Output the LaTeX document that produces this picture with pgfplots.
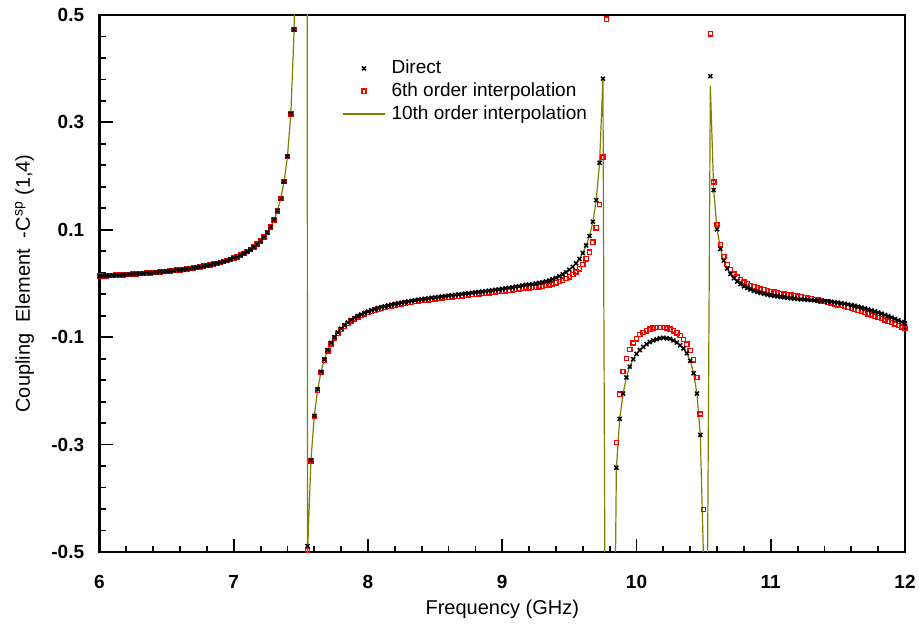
\documentclass[border=0pt]{standalone}
\usepackage{fontspec}
\setmainfont{Liberation Sans}
\usepackage{pgfplots}
\usepackage{pgfplotstable}
\pgfplotsset{compat=1.18}
\definecolor{olivec}{RGB}{128,128,0}

\pgfplotstableread{
x d s t
6.000 0.0137 0.0137 0.0137
6.025 0.0141 0.0141 0.0141
6.050 0.0144 0.0144 0.0144
6.075 0.0147 0.0147 0.0147
6.100 0.0151 0.0151 0.0151
6.125 0.0154 0.0154 0.0154
6.150 0.0158 0.0158 0.0158
6.175 0.0162 0.0162 0.0162
6.200 0.0166 0.0166 0.0166
6.225 0.0170 0.0170 0.0170
6.250 0.0174 0.0174 0.0174
6.275 0.0178 0.0178 0.0178
6.300 0.0183 0.0183 0.0183
6.325 0.0187 0.0187 0.0187
6.350 0.0192 0.0192 0.0192
6.375 0.0197 0.0197 0.0197
6.400 0.0203 0.0203 0.0203
6.425 0.0208 0.0208 0.0208
6.450 0.0214 0.0214 0.0214
6.475 0.0220 0.0220 0.0220
6.500 0.0226 0.0226 0.0226
6.525 0.0233 0.0233 0.0233
6.550 0.0239 0.0239 0.0239
6.575 0.0247 0.0247 0.0247
6.600 0.0254 0.0254 0.0254
6.625 0.0262 0.0262 0.0262
6.650 0.0271 0.0271 0.0271
6.675 0.0280 0.0280 0.0280
6.700 0.0289 0.0289 0.0289
6.725 0.0299 0.0299 0.0299
6.750 0.0310 0.0310 0.0310
6.775 0.0321 0.0321 0.0321
6.800 0.0333 0.0333 0.0333
6.825 0.0346 0.0346 0.0346
6.850 0.0360 0.0360 0.0360
6.875 0.0375 0.0375 0.0375
6.900 0.0391 0.0391 0.0391
6.925 0.0409 0.0409 0.0409
6.950 0.0428 0.0428 0.0428
6.975 0.0449 0.0449 0.0449
7.000 0.0472 0.0472 0.0472
7.025 0.0497 0.0497 0.0497
7.050 0.0525 0.0525 0.0525
7.075 0.0557 0.0557 0.0557
7.100 0.0592 0.0592 0.0592
7.125 0.0632 0.0632 0.0632
7.150 0.0677 0.0677 0.0677
7.175 0.0730 0.0730 0.0730
7.200 0.0791 0.0791 0.0791
7.225 0.0863 0.0863 0.0863
7.250 0.0949 0.0949 0.0949
7.275 0.1054 0.1054 0.1054
7.300 0.1186 0.1186 0.1186
7.325 0.1355 0.1355 0.1355
7.350 0.1580 0.1580 0.1580
7.375 0.1896 0.1896 0.1896
7.400 0.2368 0.2368 0.2368
7.425 0.3155 0.3155 0.3155
7.450 0.4729 0.4729 0.4729
7.475 0.945 0.945 0.95
7.500 3 3 3
7.525 -1 -1 8
7.550 -0.489 -0.497 -0.500
7.575 -0.3290 -0.3305 -0.3290
7.600 -0.2464 -0.2480 -0.2464
7.625 -0.1971 -0.1987 -0.1971
7.650 -0.1645 -0.1661 -0.1645
7.675 -0.1413 -0.1429 -0.1413
7.700 -0.1239 -0.1255 -0.1239
7.725 -0.1105 -0.1122 -0.1105
7.750 -0.0999 -0.1016 -0.0999
7.775 -0.0912 -0.0929 -0.0912
7.800 -0.0840 -0.0857 -0.0840
7.825 -0.0779 -0.0796 -0.0779
7.850 -0.0726 -0.0744 -0.0726
7.875 -0.0681 -0.0699 -0.0681
7.900 -0.0642 -0.0660 -0.0642
7.925 -0.0607 -0.0625 -0.0607
7.950 -0.0576 -0.0595 -0.0576
7.975 -0.0548 -0.0567 -0.0548
8.000 -0.0522 -0.0541 -0.0522
8.025 -0.0499 -0.0519 -0.0499
8.050 -0.0478 -0.0498 -0.0478
8.075 -0.0459 -0.0479 -0.0459
8.100 -0.0441 -0.0461 -0.0441
8.125 -0.0425 -0.0446 -0.0425
8.150 -0.0409 -0.0430 -0.0409
8.175 -0.0395 -0.0416 -0.0395
8.200 -0.0381 -0.0403 -0.0381
8.225 -0.0368 -0.0390 -0.0368
8.250 -0.0356 -0.0379 -0.0356
8.275 -0.0345 -0.0368 -0.0345
8.300 -0.0334 -0.0357 -0.0334
8.325 -0.0323 -0.0347 -0.0323
8.350 -0.0313 -0.0337 -0.0313
8.375 -0.0303 -0.0328 -0.0303
8.400 -0.0294 -0.0319 -0.0294
8.425 -0.0285 -0.0310 -0.0285
8.450 -0.0276 -0.0302 -0.0276
8.475 -0.0267 -0.0293 -0.0267
8.500 -0.0259 -0.0286 -0.0259
8.525 -0.0251 -0.0278 -0.0251
8.550 -0.0243 -0.0271 -0.0243
8.575 -0.0235 -0.0264 -0.0235
8.600 -0.0227 -0.0256 -0.0227
8.625 -0.0219 -0.0249 -0.0219
8.650 -0.0212 -0.0242 -0.0212
8.675 -0.0204 -0.0235 -0.0204
8.700 -0.0197 -0.0229 -0.0197
8.725 -0.0189 -0.0222 -0.0189
8.750 -0.0182 -0.0215 -0.0182
8.775 -0.0174 -0.0208 -0.0174
8.800 -0.0166 -0.0201 -0.0166
8.825 -0.0159 -0.0195 -0.0159
8.850 -0.0151 -0.0188 -0.0151
8.875 -0.0143 -0.0181 -0.0143
8.900 -0.0135 -0.0174 -0.0135
8.925 -0.0126 -0.0167 -0.0126
8.950 -0.0118 -0.0160 -0.0118
8.975 -0.0109 -0.0152 -0.0109
9.000 -0.0100 -0.0145 -0.0100
9.025 -0.0091 -0.0137 -0.0091
9.050 -0.0081 -0.0129 -0.0081
9.075 -0.0071 -0.0120 -0.0071
9.100 -0.0060 -0.0111 -0.0060
9.125 -0.0049 -0.0102 -0.0049
9.150 -0.0037 -0.0092 -0.0037
9.175 -0.0025 -0.0083 -0.0025
9.200 -0.0021 -0.0082 -0.0021
9.225 -0.0012 -0.0076 -0.0012
9.250 -0.0001 -0.0068 -0.0001
9.275 0.0010 -0.0060 0.0010
9.300 0.0023 -0.0051 0.0023
9.325 0.0038 -0.0040 0.0038
9.350 0.0055 -0.0028 0.0055
9.375 0.0079 -0.0009 0.0079
9.400 0.0106 0.0012 0.0106
9.425 0.0136 0.0034 0.0136
9.450 0.0170 0.0060 0.0170
9.475 0.0210 0.0091 0.0210
9.500 0.0256 0.0125 0.0256
9.525 0.0310 0.0165 0.0310
9.550 0.0376 0.0214 0.0376
9.575 0.0456 0.0273 0.0456
9.600 0.0567 0.0356 0.0567
9.625 0.0708 0.0460 0.0708
9.650 0.0885 0.0584 0.0885
9.675 0.1149 0.0767 0.1149
9.700 0.1553 0.1036 0.1553
9.725 0.2249 0.1468 0.2249
9.750 0.3814 0.2350 0.3814
9.775 -1.2 0.492 -1.2
9.800 -1.6 3 -1.6
9.825 -1.0 -1.5 -1.0
9.850 -0.343 -0.296 -0.343
9.875 -0.252 -0.206 -0.252
9.900 -0.205 -0.164 -0.205
9.925 -0.175 -0.140 -0.175
9.950 -0.155 -0.123 -0.155
9.975 -0.141 -0.111 -0.141
10.000 -0.131 -0.103 -0.131
10.025 -0.124 -0.095 -0.124
10.050 -0.118 -0.091 -0.118
10.075 -0.113 -0.088 -0.113
10.100 -0.109 -0.085 -0.109
10.125 -0.106 -0.083 -0.106
10.150 -0.104 -0.082 -0.104
10.175 -0.102 -0.082 -0.102
10.200 -0.101 -0.082 -0.101
10.225 -0.102 -0.083 -0.102
10.250 -0.103 -0.085 -0.103
10.275 -0.106 -0.088 -0.106
10.300 -0.110 -0.092 -0.110
10.325 -0.115 -0.097 -0.115
10.350 -0.121 -0.104 -0.121
10.375 -0.130 -0.113 -0.130
10.400 -0.144 -0.125 -0.144
10.425 -0.167 -0.142 -0.167
10.450 -0.205 -0.175 -0.205
10.475 -0.282 -0.243 -0.282
10.500 -0.6 -0.421 -0.52
10.525 -0.7 -0.9 -0.7
10.550 0.386 0.465 0.368
10.575 0.174 0.189 0.174
10.600 0.101 0.110 0.101
10.625 0.0645 0.0723 0.0645
10.650 0.0426 0.0503 0.0426
10.675 0.0280 0.0357 0.0280
10.700 0.0176 0.0254 0.0176
10.725 0.0098 0.0177 0.0098
10.750 0.0037 0.0116 0.0037
10.775 -0.0012 0.0068 -0.0012
10.800 -0.0052 0.0028 -0.0052
10.825 -0.0085 -0.0006 -0.0085
10.850 -0.0113 -0.0035 -0.0113
10.875 -0.0137 -0.0060 -0.0137
10.900 -0.0158 -0.0082 -0.0158
10.925 -0.0176 -0.0101 -0.0176
10.950 -0.0192 -0.0119 -0.0192
10.975 -0.0207 -0.0134 -0.0207
11.000 -0.0220 -0.0149 -0.0220
11.025 -0.0231 -0.0162 -0.0231
11.050 -0.0241 -0.0174 -0.0241
11.075 -0.0251 -0.0185 -0.0251
11.100 -0.0260 -0.0196 -0.0260
11.125 -0.0268 -0.0206 -0.0268
11.150 -0.0275 -0.0216 -0.0275
11.175 -0.0282 -0.0227 -0.0282
11.200 -0.0288 -0.0237 -0.0288
11.225 -0.0294 -0.0248 -0.0294
11.250 -0.0299 -0.0260 -0.0299
11.275 -0.0304 -0.0271 -0.0304
11.300 -0.0309 -0.0283 -0.0309
11.325 -0.0313 -0.0295 -0.0313
11.350 -0.0317 -0.0308 -0.0317
11.375 -0.0322 -0.0322 -0.0322
11.400 -0.0327 -0.0335 -0.0327
11.425 -0.0333 -0.0350 -0.0333
11.450 -0.0340 -0.0365 -0.0340
11.475 -0.0348 -0.0380 -0.0348
11.500 -0.0357 -0.0396 -0.0357
11.525 -0.0367 -0.0412 -0.0367
11.550 -0.0378 -0.0429 -0.0378
11.575 -0.0390 -0.0447 -0.0390
11.600 -0.0403 -0.0465 -0.0403
11.625 -0.0417 -0.0483 -0.0417
11.650 -0.0432 -0.0503 -0.0432
11.675 -0.0447 -0.0523 -0.0447
11.700 -0.0464 -0.0543 -0.0464
11.725 -0.0482 -0.0564 -0.0482
11.750 -0.0501 -0.0586 -0.0501
11.775 -0.0521 -0.0608 -0.0521
11.800 -0.0542 -0.0631 -0.0542
11.825 -0.0563 -0.0655 -0.0563
11.850 -0.0586 -0.0679 -0.0586
11.875 -0.0610 -0.0704 -0.0610
11.900 -0.0635 -0.0730 -0.0635
11.925 -0.0661 -0.0756 -0.0661
11.950 -0.0689 -0.0783 -0.0689
11.975 -0.0717 -0.0810 -0.0717
12.000 -0.0746 -0.0838 -0.0746
}\data

\begin{document}
\begin{tikzpicture}
\useasboundingbox (0,0) rectangle (459.5pt,312pt);
\begin{axis}[
  at={(49.75pt,36pt)}, anchor=south west,
  scale only axis, width=402.75pt, height=268.5pt,
  xmin=6, xmax=12, ymin=-0.5, ymax=0.5,
  xtick={6,7,8,9,10,11,12}, xticklabels={6,7,8,9,10,11,12},
  ytick={-0.5,-0.3,-0.1,0.1,0.3,0.5}, yticklabels={-0.5,-0.3,-0.1,0.1,0.3,0.5},
  minor x tick num=4, minor y tick num=4,
  tick align=inside, tick pos=left,
  major tick length=6.5pt, minor tick length=3pt,
  tick style={black, line width=0.9pt},
  axis line style={line width=1.2pt},
  xticklabel style={font=\fontsize{9.5}{11}\selectfont\bfseries, inner sep=0pt, anchor=north, yshift=-11.5pt},
  yticklabel style={font=\fontsize{9.5}{11}\selectfont\bfseries, inner sep=0pt, anchor=east, xshift=-7.5pt},
  xlabel={Frequency (GHz)},
  ylabel={Coupling\ \ Element\ \ -C\textsuperscript{sp} (1,4)},
  xlabel style={font=\fontsize{10}{12}\selectfont, at={(axis description cs:0.5,-0.106)}, anchor=center},
  ylabel style={font=\fontsize{10}{12}\selectfont, at={(axis description cs:-0.093,0.5)}, anchor=center},
  legend style={draw=none, fill=none, at={(0.301,0.918)}, anchor=north west, inner sep=0pt,
    row sep=2.4pt, column sep=3pt, font=\fontsize{9.5}{11}\selectfont,
    nodes={inner sep=0pt, text height=7pt, text depth=2pt}},
  legend cell align=left,
  legend image code/.code={\coordinate (lgA) at (0pt,-3pt); \coordinate (lgB) at (21pt,3pt);
    \draw[mark repeat=2,mark phase=2,#1] plot coordinates {(0pt,0pt) (10.5pt,0pt) (21pt,0pt)};},
]
\addlegendimage{only marks, mark=x, black, mark size=1.4pt, mark options={line width=0.75pt}}
\addlegendentry{Direct}
\addlegendimage{only marks, mark=square, red, mark size=1.05pt, mark options={line width=0.7pt}}
\addlegendentry{6th order interpolation}
\addlegendimage{olivec, line width=0.6pt, no marks}
\addlegendentry{10th order interpolation}

\addplot[forget plot, only marks, mark=square, red, mark size=1.05pt, mark options={line width=0.7pt}] table[x=x,y=s]{\data};
\addplot[forget plot, only marks, mark=x, black, mark size=1.4pt, mark options={line width=0.75pt}] table[x=x,y=d]{\data};
\addplot[forget plot, olivec, line width=0.6pt, no marks] table[x=x,y=t]{\data};
\end{axis}
\end{tikzpicture}
\end{document}
